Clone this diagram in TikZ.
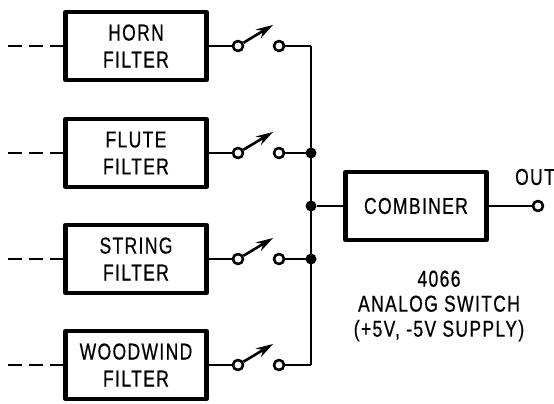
\documentclass[tikz,border=0pt]{standalone}
\usepackage{fontspec}
\setmainfont[FakeStretch=0.76,LetterSpace=6,FakeBold=0.6]{Liberation Sans}
\usetikzlibrary{arrows.meta}
\begin{document}
\begin{tikzpicture}[
  x=1pt, y=-1pt,
  line join=round, line cap=butt,
  filterbox/.style={draw, line width=4.2pt, minimum width=141pt, minimum height=68pt,
    align=center, font=\fontsize{23}{27}\selectfont, inner sep=0pt},
  wire/.style={line width=2.8pt},
  contact/.style={draw, circle, fill=white, line width=2.6pt, minimum size=10pt, inner sep=0pt},
  junction/.style={fill, circle, minimum size=11pt, inner sep=0pt},
  blade/.style={line width=2.6pt, -{Stealth[length=17pt,width=10pt]}},
  label/.style={font=\fontsize{23}{25}\selectfont, align=center, inner sep=0pt},
]
\useasboundingbox (0,0) rectangle (554,404);

% the four filters with their switches
\foreach \i/\y/\txt in {1/46/HORN\\FILTER, 2/153/FLUTE\\FILTER, 3/259/STRING\\FILTER, 4/365/WOODWIND\\FILTER} {
  \node[filterbox] (filter\i) at (136,\y) {\txt};
  \coordinate (in\i) at (8,\y);
  \coordinate (tip\i) at (273,\y-21);
  \coordinate (bus\i) at (311,\y);
  \node[contact] (left\i) at (238,\y) {};
  \node[contact] (right\i) at (279,\y) {};
  \draw[wire, dash pattern=on 14pt off 7pt] (in\i) -- (filter\i);
  \draw[wire] (filter\i) -- (left\i);
  \draw[blade] (left\i) -- (tip\i);
  \draw[wire] (right\i) -- (bus\i);
}

% the bus
\draw[wire] (bus1) -- (bus4);
\node[junction] (dot2) at (bus2) {};
\node[junction] (dot3) at (bus3) {};
\node[junction] (dot) at (311,206) {};

% the combiner
\node[filterbox] (combiner) at (416,206) {COMBINER};
\node[contact] (out) at (538,206) {};
\draw[wire] (dot) -- (combiner);
\draw[wire] (combiner) -- (out);
\node[label] (outlabel) at (535,177) {OUT};
\node[label] (note) at (439,306) {4066\\ANALOG SWITCH\\(+5V, -5V SUPPLY)};

\end{tikzpicture}
\end{document}
